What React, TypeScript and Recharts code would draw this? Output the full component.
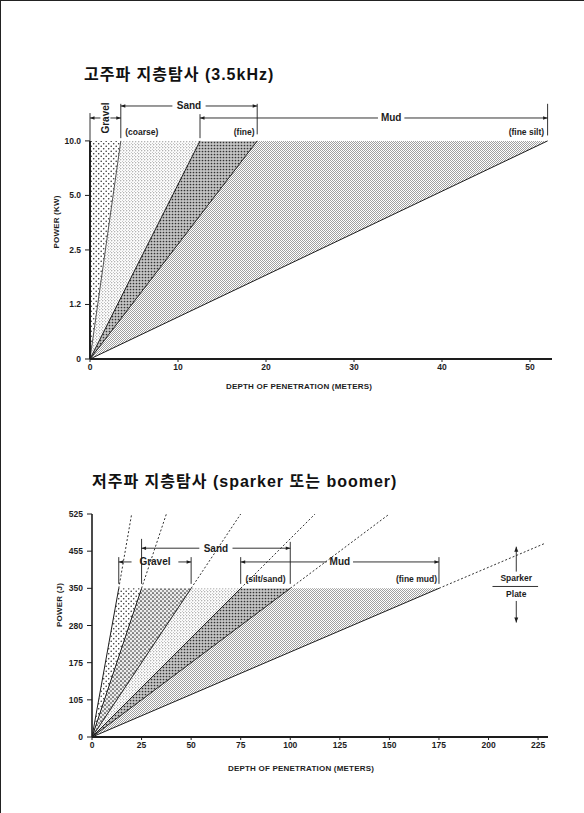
import { ComposedChart, Area, Line, XAxis, YAxis, ReferenceLine } from 'recharts';

const SANS = '"Liberation Sans", Arial, "Noto Sans CJK KR", sans-serif';
const INK = '#1d1d1d';

// ── 고주파 지층탐사 (3.5kHz) ──
const hfDepthTicks = [0, 10, 20, 30, 40, 50];
const hfPowerLabels = ['0', '1.2', '2.5', '5.0', '10.0'];
const hfMaxPower = 4; // index of 10.0 kW
const hfEdges = [0, 3.5, 12.5, 19, 52]; // depth reached at 10 kW, per sediment boundary
const hfFills = ['url(#pGravel)', 'url(#pSand)', 'url(#pFine)', 'url(#pMud)'];

// ── 저주파 지층탐사 (sparker / boomer) ──
const lfDepthTicks = [0, 25, 50, 75, 100, 125, 150, 175, 200, 225];
const lfPowerLabels = ['0', '105', '175', '280', '350', '455', '525'];
const lfMaxPower = 4; // index of 350 J
const lfEdges = [13.5, 25, 50, 75, 100, 175];
const lfFills = ['url(#pGravel)', 'url(#pPebble)', 'url(#pSand)', 'url(#pFine)', 'url(#pMud)'];
const lfDashTips = [[20, 6], [37.5, 6], [75, 6], [112.5, 6], [150, 6], [228, 5.2]];

const indexTicks = (labels: string[]) => labels.map((_, i) => i);

// triangle between two rays from the origin, closed at the top power level
const wedges = (edges: number[], top: number) =>
  edges.slice(1).map((b, i) => [
    { y: 0, band: [0, 0] },
    { y: top, band: [edges[i], b] },
  ]);

const rays = (edges: number[], top: number) =>
  edges.filter((e) => e > 0).map((e) => [{ y: 0, x: 0 }, { y: top, x: e }]);

const textStyle = { fontFamily: SANS, fontWeight: 700, fill: INK } as const;

function bracket(label: string, size = 10, pos = 0.5, vertical = false) {
  return (p: any) => {
    const { x1, x2, y1 } = p;
    const mid = x1 + (x2 - x1) * pos;
    const half = vertical ? 5 : label.length * size * 0.34 + 3;
    return (
      <g>
        <line x1={x1} y1={y1} x2={mid - half} y2={y1} stroke={INK} strokeWidth={0.9} />
        <line x1={mid + half} y1={y1} x2={x2} y2={y1} stroke={INK} strokeWidth={0.9} />
        <path d={`M${x1},${y1}l4.5,-1.8v3.6z`} fill={INK} />
        <path d={`M${x2},${y1}l-4.5,-1.8v3.6z`} fill={INK} />
        <text
          x={mid}
          y={y1}
          textAnchor="middle"
          dominantBaseline="central"
          fontSize={size}
          transform={vertical ? `rotate(-90 ${mid} ${y1})` : undefined}
          {...textStyle}
        >
          {label}
        </text>
      </g>
    );
  };
}

function tag(label: string, anchor: 'start' | 'middle' | 'end' = 'middle', size = 8.5) {
  return (p: any) => (
    <text x={p.x1} y={p.y1} textAnchor={anchor} dominantBaseline="central" fontSize={size} {...textStyle}>
      {label}
    </text>
  );
}

const arrow = (p: any) => {
  const { x1, y1, x2, y2 } = p;
  const dir = y2 < y1 ? 1 : -1;
  return (
    <g>
      <line x1={x1} y1={y1} x2={x2} y2={y2} stroke={INK} strokeWidth={0.9} />
      <path d={`M${x2},${y2}l-2,${dir * 5}h4z`} fill={INK} />
    </g>
  );
};

const tick = (x: number, y1: number, y2: number) => (
  <ReferenceLine
    key={`t${x}-${y1}`}
    segment={[{ x, y: y1 }, { x, y: y2 }]}
    stroke={INK}
    strokeWidth={0.9}
    ifOverflow="visible"
  />
);

const axisTick = { fontSize: 8.5, fontWeight: 700, fill: INK, fontFamily: SANS };

function AxisTitle({ x, y, text, vertical }: { x: number; y: number; text: string; vertical?: boolean }) {
  return (
    <div
      style={{
        position: 'absolute',
        left: x,
        top: y,
        transform: `translate(-50%, -50%)${vertical ? ' rotate(-90deg)' : ''}`,
        whiteSpace: 'nowrap',
        font: `700 8px ${SANS}`,
        color: INK,
        letterSpacing: 0.2,
      }}
    >
      {text}
    </div>
  );
}

function Patterns() {
  return (
    <svg width={0} height={0} style={{ position: 'absolute' }}>
      <defs>
        <pattern id="pGravel" width={5} height={5} patternUnits="userSpaceOnUse">
          <circle cx={1.2} cy={1.2} r={0.8} fill="#333" />
          <circle cx={3.7} cy={3.7} r={0.8} fill="#333" />
        </pattern>
        <pattern id="pPebble" width={4} height={4} patternUnits="userSpaceOnUse">
          <rect width={4} height={4} fill="#ececec" />
          <circle cx={1} cy={1} r={0.85} fill="#222" />
          <circle cx={3} cy={3} r={0.8} fill="#333" />
        </pattern>
        <pattern id="pSand" width={3} height={3} patternUnits="userSpaceOnUse">
          <circle cx={0.8} cy={0.8} r={0.55} fill="#555" />
          <circle cx={2.3} cy={2.3} r={0.45} fill="#777" />
        </pattern>
        <pattern id="pFine" width={3} height={3} patternUnits="userSpaceOnUse">
          <rect width={3} height={3} fill="#c4c4c4" />
          <circle cx={1.5} cy={1.5} r={0.85} fill="#333" />
        </pattern>
        <pattern id="pMud" width={2} height={2} patternUnits="userSpaceOnUse">
          <rect width={2} height={2} fill="#fff" />
          <rect width={1} height={1} fill="#a0a0a0" />
          <rect x={1} y={1} width={1} height={1} fill="#a0a0a0" />
        </pattern>
      </defs>
    </svg>
  );
}

function HighFreqChart() {
  const top = hfMaxPower;
  return (
    <ComposedChart
      layout="vertical"
      width={584}
      height={400}
      margin={{ top: 100, right: 32, bottom: 11, left: 50 }}
    >
      <XAxis
        type="number"
        domain={[0, 52.5]}
        ticks={hfDepthTicks}
        interval={0}
        allowDataOverflow
        height={30}
        tick={axisTick}
        tickSize={3}
        axisLine={{ stroke: INK, strokeWidth: 2 }}
        tickLine={{ stroke: INK }}
      />
      <YAxis
        type="number"
        dataKey="y"
        reversed
        domain={[0, 4.75]}
        ticks={indexTicks(hfPowerLabels)}
        interval={0}
        allowDataOverflow
        width={40}
        tick={axisTick}
        tickSize={5}
        tickMargin={4}
        tickFormatter={(v: number) => hfPowerLabels[v]}
        axisLine={false}
        tickLine={{ stroke: INK }}
      />
      {wedges(hfEdges, top).map((d, i) => (
        <Area
          key={`w${i}`}
          data={d}
          dataKey="band"
          type="linear"
          fill={hfFills[i]}
          fillOpacity={1}
          stroke="none"
          isAnimationActive={false}
        />
      ))}
      {rays(hfEdges, top).map((d, i) => (
        <Line
          key={`r${i}`}
          data={d}
          dataKey="x"
          type="linear"
          stroke={i === 0 ? '#555' : INK}
          strokeWidth={1}
          dot={false}
          isAnimationActive={false}
        />
      ))}
      <ReferenceLine segment={[{ x: 0, y: 0 }, { x: 0, y: top }]} stroke={INK} strokeWidth={2} ifOverflow="visible" />

      {tick(0, top, 4.51)}
      {tick(3.5, 4.05, 4.68)}
      {tick(19, 4.12, 4.68)}
      {tick(12.5, 4.05, 4.49)}
      {tick(52, 4.1, 4.68)}
      <ReferenceLine segment={[{ x: 3.5, y: 4.64 }, { x: 19, y: 4.64 }]} shape={bracket('Sand')} ifOverflow="visible" />
      <ReferenceLine segment={[{ x: 0, y: 4.42 }, { x: 3.5, y: 4.42 }]} shape={bracket('Gravel', 10, 0.5, true)} ifOverflow="visible" />
      <ReferenceLine segment={[{ x: 12.5, y: 4.42 }, { x: 52, y: 4.42 }]} shape={bracket('Mud', 10, 0.55)} ifOverflow="visible" />
      <ReferenceLine segment={[{ x: 4, y: 4.17 }, { x: 4, y: 4.17 }]} shape={tag('(coarse)', 'start')} ifOverflow="visible" />
      <ReferenceLine segment={[{ x: 18.7, y: 4.17 }, { x: 18.7, y: 4.17 }]} shape={tag('(fine)', 'end')} ifOverflow="visible" />
      <ReferenceLine segment={[{ x: 51.6, y: 4.17 }, { x: 51.6, y: 4.17 }]} shape={tag('(fine silt)', 'end')} ifOverflow="visible" />
    </ComposedChart>
  );
}

function LowFreqChart() {
  const top = lfMaxPower;
  const edges = [0, ...lfEdges];
  return (
    <ComposedChart
      layout="vertical"
      width={584}
      height={360}
      margin={{ top: 94, right: 36, bottom: 13, left: 52 }}
    >
      <XAxis
        type="number"
        domain={[0, 230]}
        ticks={lfDepthTicks}
        interval={0}
        allowDataOverflow
        height={30}
        tick={axisTick}
        tickSize={3}
        axisLine={{ stroke: INK, strokeWidth: 2 }}
        tickLine={{ stroke: INK }}
      />
      <YAxis
        type="number"
        dataKey="y"
        reversed
        domain={[0, 6]}
        ticks={indexTicks(lfPowerLabels)}
        interval={0}
        allowDataOverflow
        width={40}
        tick={axisTick}
        tickSize={5}
        tickMargin={4}
        tickFormatter={(v: number) => lfPowerLabels[v]}
        axisLine={{ stroke: INK, strokeWidth: 1.6 }}
        tickLine={{ stroke: INK }}
      />
      {wedges(edges, top)
        .slice(1)
        .map((d, i) => (
          <Area
            key={`w${i}`}
            data={d}
            dataKey="band"
            type="linear"
            fill={lfFills[i]}
            fillOpacity={1}
            stroke="none"
            isAnimationActive={false}
          />
        ))}
      {rays(lfEdges, top).map((d, i) => (
        <Line
          key={`r${i}`}
          data={d}
          dataKey="x"
          type="linear"
          stroke={INK}
          strokeWidth={1}
          dot={false}
          isAnimationActive={false}
        />
      ))}
      {lfEdges.map((e, i) => (
        <Line
          key={`d${i}`}
          data={[{ y: top, x: e }, { y: lfDashTips[i][1], x: lfDashTips[i][0] }]}
          dataKey="x"
          type="linear"
          stroke="#333"
          strokeWidth={1}
          strokeDasharray="2 2"
          dot={false}
          isAnimationActive={false}
        />
      ))}

      {tick(25, 4.12, 5.33)}
      {tick(100, 4.12, 5.25)}
      {tick(13.5, 4.12, 4.84)}
      {tick(50, 4.12, 4.84)}
      {tick(75, 4.12, 4.84)}
      {tick(175, 4.12, 4.84)}
      <ReferenceLine segment={[{ x: 25, y: 5.08 }, { x: 100, y: 5.08 }]} shape={bracket('Sand')} ifOverflow="visible" />
      <ReferenceLine segment={[{ x: 13.5, y: 4.71 }, { x: 50, y: 4.71 }]} shape={bracket('Gravel')} ifOverflow="visible" />
      <ReferenceLine segment={[{ x: 75, y: 4.71 }, { x: 175, y: 4.71 }]} shape={bracket('Mud')} ifOverflow="visible" />
      <ReferenceLine segment={[{ x: 87.5, y: 4.26 }, { x: 87.5, y: 4.26 }]} shape={tag('(silt/sand)')} ifOverflow="visible" />
      <ReferenceLine segment={[{ x: 174, y: 4.26 }, { x: 174, y: 4.26 }]} shape={tag('(fine mud)', 'end')} ifOverflow="visible" />

      <ReferenceLine segment={[{ x: 202, y: 4.05 }, { x: 225, y: 4.05 }]} stroke={INK} strokeWidth={0.9} ifOverflow="visible" />
      <ReferenceLine segment={[{ x: 214, y: 4.28 }, { x: 214, y: 4.28 }]} shape={tag('Sparker')} ifOverflow="visible" />
      <ReferenceLine segment={[{ x: 214, y: 3.84 }, { x: 214, y: 3.84 }]} shape={tag('Plate')} ifOverflow="visible" />
      <ReferenceLine segment={[{ x: 214, y: 4.45 }, { x: 214, y: 5.12 }]} shape={arrow} ifOverflow="visible" />
      <ReferenceLine segment={[{ x: 214, y: 3.66 }, { x: 214, y: 3.08 }]} shape={arrow} ifOverflow="visible" />
    </ComposedChart>
  );
}

const titleStyle = {
  position: 'absolute',
  font: `700 16px "Liberation Sans", "Noto Sans CJK KR", sans-serif`,
  letterSpacing: 1,
  color: '#111',
  whiteSpace: 'nowrap',
  lineHeight: '20px',
} as const;

export default function App() {
  return (
    <div
      style={{
        position: 'fixed',
        left: 0,
        top: 0,
        width: 584,
        height: 813,
        background: '#fff',
        borderLeft: '1px solid #222',
        borderTop: '1px solid #222',
        boxSizing: 'border-box',
        overflow: 'hidden',
      }}
    >
      <Patterns />
      <div style={{ ...titleStyle, left: 83, top: 64 }}>고주파 지층탐사 (3.5kHz)</div>
      <div style={{ position: 'absolute', left: -1, top: -1 }}>
        <HighFreqChart />
      </div>
      <AxisTitle x={55} y={221} text="POWER (KW)" vertical />
      <AxisTitle x={298} y={385} text="DEPTH OF PENETRATION (METERS)" />

      <div style={{ ...titleStyle, left: 91, top: 471 }}>저주파 지층탐사 (sparker 또는 boomer)</div>
      <div style={{ position: 'absolute', left: -1, top: 419 }}>
        <LowFreqChart />
      </div>
      <AxisTitle x={58} y={604} text="POWER (J)" vertical />
      <AxisTitle x={300} y={767} text="DEPTH OF PENETRATION (METERS)" />
    </div>
  );
}
